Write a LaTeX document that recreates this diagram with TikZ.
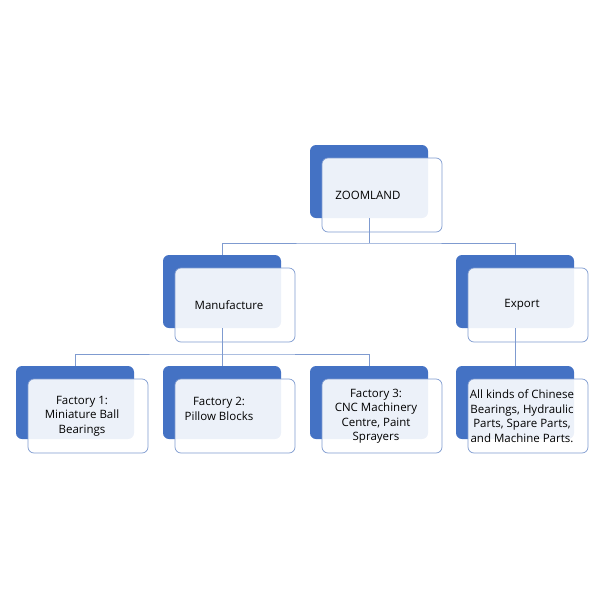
\documentclass[tikz,border=0pt]{standalone}
\usepackage{fontspec}
\setmainfont{Open Sans}
\definecolor{bk}{HTML}{4472C4}
\definecolor{ln}{HTML}{7F9BD0}
\begin{document}
\begin{tikzpicture}[x=1pt,y=-1pt,
 back/.style={fill=bk,rounded corners=6pt},
 front/.style={draw=ln,line width=0.7pt,fill=white,fill opacity=0.9,text opacity=1,rounded corners=6pt},
 lbl/.style={font=\fontsize{11.5}{14.5}\selectfont,align=center,text=black},
 con/.style={draw=ln,line width=0.7pt}]
\useasboundingbox (0,0) rectangle (600,600);
\newcommand\bx[5]{% name, x, y (blue top-left), text
 \fill[back] (#2,#3) rectangle ++(118,73);
 \path[front] (#2+12,#3+13) rectangle ++(120,74);
 \node[lbl] (#1) at (#2+66+#5,#3+50) {#4};
 \coordinate (#1t) at (#2+59,#3);
 \coordinate (#1b) at (#2+59,#3+73);
}
\bx{z}{310}{145}{ZOOMLAND}{-8}
\bx{m}{163}{255}{Manufacture}{0}
\bx{e}{456}{255}{Export}{0}
\bx{f1}{16}{366}{Factory 1:\\Miniature Ball\\Bearings}{0}
\bx{f2}{163}{366}{Factory 2:\\Pillow Blocks\\ }{-10}
\bx{f3}{310}{366}{Factory 3:\\CNC Machinery\\Centre, Paint\\Sprayers}{0}
\bx{ec}{456}{366}{All kinds of Chinese\\Bearings, Hydraulic\\Parts, Spare Parts,\\and Machine Parts.}{0}
\draw[con] (zb) -- ++(0,25) coordinate (zh);
\draw[con] (mt) |- (zh) -| (et);
\draw[con] (mb) -- ++(0,26) coordinate (mh);
\draw[con] (f1t) |- (mh) -| (f3t);
\draw[con] (f2t) -- (mb);
\draw[con] (eb) -- (ect);
\end{tikzpicture}
\end{document}
